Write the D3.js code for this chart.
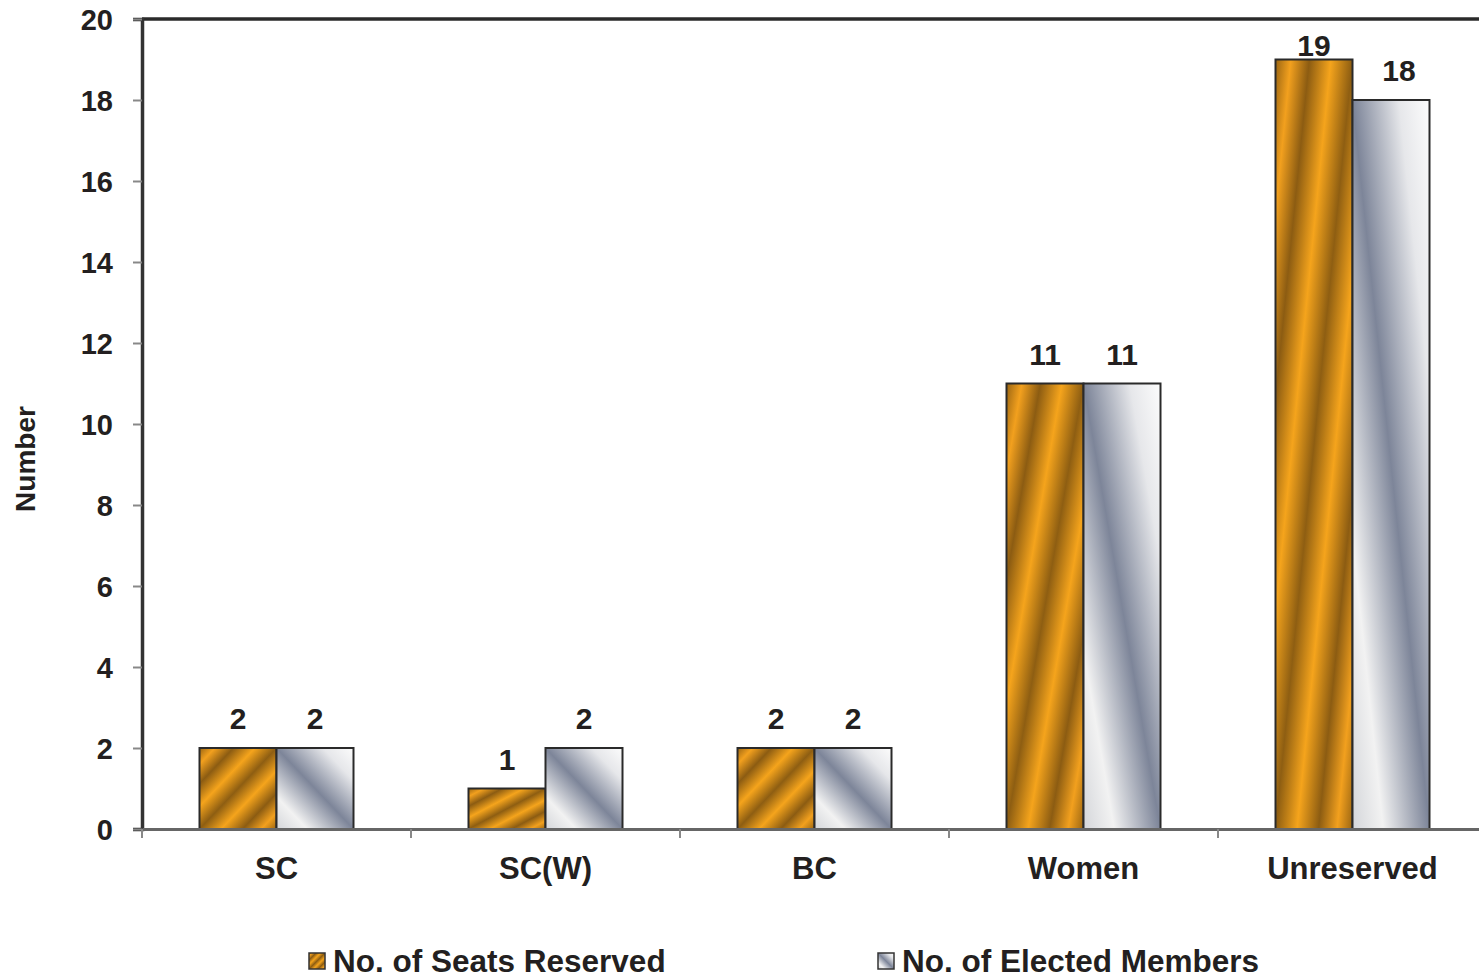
<!DOCTYPE html>
<html><head><meta charset="utf-8">
<script src="https://cdn.jsdelivr.net/npm/d3@7"></script>
<style>body{margin:0;background:#fff;}svg{display:block;font-family:"Liberation Sans",Arial,sans-serif;}</style>
</head><body>
<svg id="chart" width="1479" height="980"></svg>
<script>
const categories = ["SC", "SC(W)", "BC", "Women", "Unreserved"];
const seatsReserved = [2, 1, 2, 11, 19];
const electedMembers = [2, 2, 2, 11, 18];
const seriesNames = ["No. of Seats Reserved", "No. of Elected Members"];
const yTicks = [0, 2, 4, 6, 8, 10, 12, 14, 16, 18, 20];

(function () {
const svg = d3.select("#chart");
const defs = svg.append("defs");

const og = defs.append("linearGradient").attr("id", "gOrange")
  .attr("x1", 0).attr("y1", 0).attr("x2", 1).attr("y2", 1);
const oStops = [[0,"#9a6512"],[0.1,"#f2a01e"],[0.22,"#8c5c12"],[0.36,"#f5a41c"],[0.5,"#8e5e12"],[0.64,"#f5a41c"],[0.78,"#8c5c12"],[0.9,"#f2a01e"],[1,"#9a6512"]];
oStops.forEach(s => og.append("stop").attr("offset", s[0]).attr("stop-color", s[1]));

const gg = defs.append("linearGradient").attr("id", "gGrey")
  .attr("x1", 0).attr("y1", 1).attr("x2", 1).attr("y2", 0);
const gStops = [[0,"#d4d6da"],[0.2,"#f2f2f2"],[0.5,"#7d8599"],[0.8,"#e6e7ea"],[1,"#fcfcfc"]];
gStops.forEach(s => gg.append("stop").attr("offset", s[0]).attr("stop-color", s[1]));

const pL = 142, pR = 1487, pT = 19, pB = 829;
const x = d3.scaleBand().domain(categories).range([pL, pR]).paddingInner(0).paddingOuter(0);
const y = d3.scaleLinear().domain([0, 20]).range([pB, pT]);
const barW = 77;
const txt = "#231f20";
const ff = "'Liberation Sans',Arial,sans-serif";

svg.append("line").attr("x1", pL).attr("x2", 1479).attr("y1", pT).attr("y2", pT)
  .attr("stroke", "#2a2a2a").attr("stroke-width", 3.5);

const yAxis = svg.append("g").attr("transform", `translate(${pL},0)`)
  .call(d3.axisLeft(y).tickValues(yTicks).tickSize(9).tickPadding(20));
yAxis.select(".domain").attr("stroke", "#333").attr("stroke-width", 3.5);
yAxis.selectAll(".tick line").attr("stroke", "#888").attr("stroke-width", 2);
yAxis.selectAll(".tick text").attr("font-size", 29).attr("font-weight", "bold").attr("fill", txt)
  .attr("font-family", ff).attr("dy", "0.36em");

const labelY = v => Math.max(y(v) - 19, pT + 37);
const data = categories.map((c, i) => ({c, a: seatsReserved[i], b: electedMembers[i]}));
const g = svg.append("g");
data.forEach(d => {
  const cx = x(d.c) + x.bandwidth() / 2;
  g.append("rect").attr("x", cx - barW).attr("y", y(d.a)).attr("width", barW).attr("height", y(0) - y(d.a))
    .attr("fill", "url(#gOrange)").attr("stroke", "#2a2a2a").attr("stroke-width", 2);
  g.append("rect").attr("x", cx).attr("y", y(d.b)).attr("width", barW).attr("height", y(0) - y(d.b))
    .attr("fill", "url(#gGrey)").attr("stroke", "#2a2a2a").attr("stroke-width", 2);
  g.append("text").attr("x", cx - barW / 2).attr("y", labelY(d.a)).attr("text-anchor", "middle")
    .attr("font-size", 30).attr("font-weight", "bold").attr("fill", txt).text(d.a);
  g.append("text").attr("x", cx + barW / 2 + (d.b === 18 ? 8 : 0)).attr("y", labelY(d.b)).attr("text-anchor", "middle")
    .attr("font-size", 30).attr("font-weight", "bold").attr("fill", txt).text(d.b);
});

const xAxis = svg.append("g").attr("transform", `translate(0,${pB})`)
  .call(d3.axisBottom(x).tickSize(0).tickPadding(28));
xAxis.select(".domain").attr("stroke", "#666").attr("stroke-width", 3);
xAxis.selectAll(".tick text").attr("font-size", 31).attr("font-weight", "bold").attr("fill", txt)
  .attr("font-family", ff);
const bounds = categories.map(c => x(c)).concat([x.range()[1]]);
svg.append("g").selectAll("line").data(bounds).join("line")
  .attr("x1", d => d).attr("x2", d => d).attr("y1", pB).attr("y2", pB + 9)
  .attr("stroke", "#888").attr("stroke-width", 2);

svg.append("text").attr("transform", "translate(35,459) rotate(-90)").attr("text-anchor", "middle")
  .attr("font-size", 28).attr("font-weight", "bold").attr("fill", txt).text("Number");

const legendX = [309, 878];
seriesNames.forEach((n, i) => {
  svg.append("rect").attr("x", legendX[i]).attr("y", 953).attr("width", 16).attr("height", 16)
    .attr("fill", i === 0 ? "url(#gOrange)" : "url(#gGrey)").attr("stroke", "#333").attr("stroke-width", 1.5);
  svg.append("text").attr("x", legendX[i] + 24).attr("y", 972)
    .attr("font-size", 31.5).attr("font-weight", "bold").attr("fill", txt).text(n);
});
})();
</script>
</body></html>
